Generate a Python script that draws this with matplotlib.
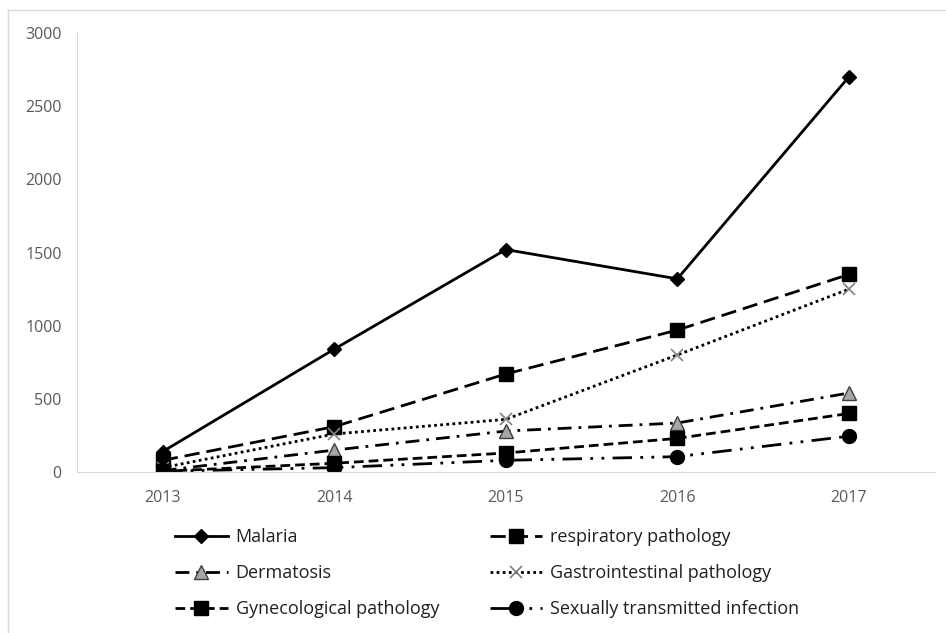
import numpy as np
import matplotlib
matplotlib.use("Agg")
import matplotlib.pyplot as plt
from matplotlib.lines import Line2D

plt.rcParams['font.family'] = ['Open Sans', 'DejaVu Sans']

years = ['2013', '2014', '2015', '2016', '2017']
malaria = [140, 840, 1520, 1320, 2700]
respiratory = [80, 310, 670, 970, 1350]
dermatosis = [10, 150, 280, 335, 540]
gastro = [30, 260, 360, 800, 1250]
gyneco = [5, 60, 130, 230, 400]
sti = [5, 30, 80, 105, 245]

fig = plt.figure(figsize=(9.46, 6.33), dpi=100)
ax = fig.add_axes([0.0814, 0.2543, 0.9066, 0.6936])

x = np.arange(len(years))
lw = 2.0
ax.plot(x, malaria, color='black', lw=lw, ls='-', marker='D', ms=7,
        label='Malaria')
ax.plot(x, respiratory, color='black', lw=lw, ls=(0, (5.5, 2.5)), marker='s',
        ms=10, label='respiratory pathology')
ax.plot(x, dermatosis, color='black', lw=lw, ls=(0, (5, 2.5, 1, 2.5)), marker='^',
        ms=10, mfc='#a6a6a6', mec='#404040', label='Dermatosis')
ax.plot(x, gastro, color='black', lw=lw, ls=(0, (1, 1.2)), marker='x',
        ms=9, mec='#808080', mew=1.2, label='Gastrointestinal pathology')
ax.plot(x, gyneco, color='black', lw=lw, ls=(0, (3.5, 1.8)), marker='s',
        ms=10, label='Gynecological pathology')
ax.plot(x, sti, color='black', lw=lw, ls=(0, (7, 3, 1, 3, 1, 3)), marker='o',
        ms=10, label='Sexually transmitted infection')

ax.set_xlim(-0.5, 4.5)
ax.set_ylim(0, 3000)
ax.set_yticks([0, 500, 1000, 1500, 2000, 2500, 3000])
ax.set_xticks(x)
ax.set_xticklabels(years)
for s in ['top', 'right']:
    ax.spines[s].set_visible(False)
ax.spines['left'].set_color('#d9d9d9')
ax.spines['bottom'].set_color('#d9d9d9')
ax.tick_params(length=0, labelsize=11.5, colors='#595959')
ax.tick_params(axis='x', pad=13)
ax.tick_params(axis='y', pad=11)

# legend in the Excel order (row-wise), ncol fills column-wise
h, l = ax.get_legend_handles_labels()
order = [0, 2, 4, 1, 3, 5]
fig.legend([h[i] for i in order], [l[i] for i in order], ncol=2,
           loc='upper left', bbox_to_anchor=(0.168, 0.191), frameon=False,
           fontsize=13, handlelength=2.9, columnspacing=2.8,
           labelspacing=1.0, handletextpad=0.45, labelcolor='#202020')

# light frame round the chart area
fig.add_artist(Line2D([8/946, 8/946], [0, 1 - 10/633], color='#d9d9d9', lw=1))
fig.add_artist(Line2D([8/946, 1], [1 - 10/633, 1 - 10/633], color='#d9d9d9', lw=1))

fig.savefig('out.png', dpi=100)
